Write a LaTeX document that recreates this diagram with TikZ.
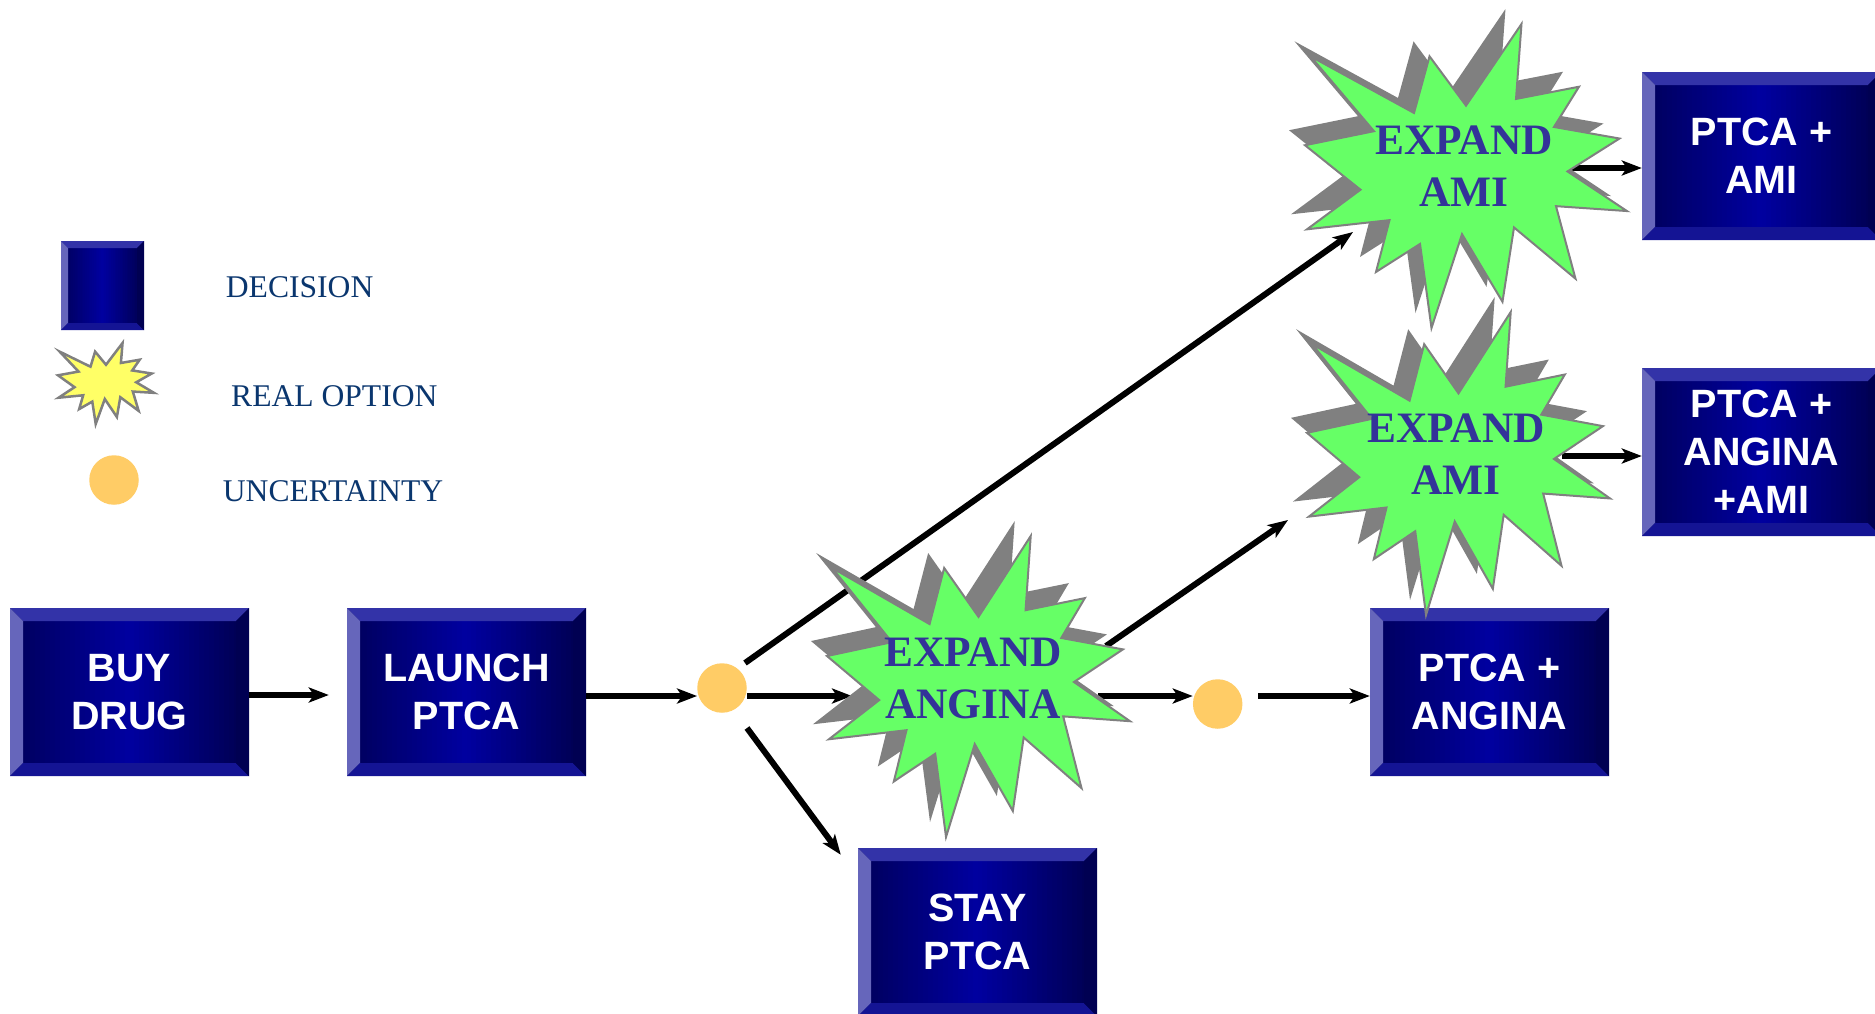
\documentclass[tikz,border=0pt]{standalone}
\usepackage{fontspec}
\setmainfont{Liberation Serif}
\newfontfamily\labelsans{Liberation Sans}
\usetikzlibrary{arrows.meta,calc}

% palette
\definecolor{bevtop}{RGB}{51,51,168}
\definecolor{bevleft}{RGB}{102,102,187}
\definecolor{bevbot}{RGB}{20,20,148}
\definecolor{bevright}{RGB}{0,0,82}
\definecolor{faceleft}{RGB}{0,0,90}
\definecolor{facemid}{RGB}{0,0,160}
\definecolor{faceright}{RGB}{0,0,78}
\definecolor{burstgreen}{RGB}{102,255,102}
\definecolor{burstgrey}{RGB}{128,128,128}
\definecolor{burstyellow}{RGB}{255,255,102}
\definecolor{optiontext}{RGB}{51,51,153}
\definecolor{legendtext}{RGB}{10,54,110}
\definecolor{chancefill}{RGB}{255,204,102}

% "explosion" outline in a unit box (x right, y down)
\newcommand\burst[5]{%
  \path[#5,shift={(#1,#2)},xscale=#3,yscale=#4]
    (0.5,0.2685) -- (0.6723,0) -- (0.6553,0.2465) -- (0.8509,0.2063) --
    (0.7732,0.3387) -- (0.9767,0.3767) -- (0.8151,0.4850) -- (1,0.6153) --
    (0.7795,0.5992) -- (0.8400,0.8377) -- (0.6491,0.6693) -- (0.6133,0.9137) --
    (0.4876,0.6914) -- (0.3928,1) -- (0.3572,0.7235) -- (0.2205,0.8156) --
    (0.2624,0.6452) -- (0.0063,0.6753) -- (0.1723,0.5451) -- (0,0.3988) --
    (0.2142,0.3526) -- (0.0171,0.1063) -- (0.3385,0.2926) -- (0.3867,0.1063) -- cycle;}

% face of a decision box: dark edges, brighter middle, in vertical strips
\newcommand\boxface{%
  \foreach \i in {0,...,47}{%
    \pgfmathsetmacro\ta{\i/48}%
    \pgfmathsetmacro\tb{min(1,(\i+1.4)/48)}%
    \pgfmathsetmacro\tc{(\i+0.5)/48}%
    \pgfmathsetmacro\mixpct{\tc<0.5 ? 200*\tc : 200*(1-\tc)}%
    \ifdim\tc pt<0.5pt\def\edgecol{faceleft}\else\def\edgecol{faceright}\fi
    \fill[facemid!\mixpct!\edgecol]
      ($(path picture bounding box.south west)!\ta!(path picture bounding box.south east)$)
      rectangle
      ($(path picture bounding box.north west)!\tb!(path picture bounding box.north east)$);
  }}

\tikzset{
  bevel width/.initial=13pt,
  bevelbox/.style={rectangle, inner sep=0pt, minimum width=239pt, minimum height=168pt,
    fill=faceleft, text=white, align=center,
    font=\labelsans\bfseries\fontsize{39.5}{48}\selectfont,
    path picture={
      \def\bw{\pgfkeysvalueof{/tikz/bevel width}}
      \boxface
      \fill[bevtop] (path picture bounding box.north west) -- (path picture bounding box.north east)
        -- ([shift={(-\bw,-\bw)}]path picture bounding box.north east)
        -- ([shift={(\bw,-\bw)}]path picture bounding box.north west) -- cycle;
      \fill[bevleft] (path picture bounding box.north west)
        -- ([shift={(\bw,-\bw)}]path picture bounding box.north west)
        -- ([shift={(\bw,\bw)}]path picture bounding box.south west)
        -- (path picture bounding box.south west) -- cycle;
      \fill[bevbot] (path picture bounding box.south west)
        -- ([shift={(\bw,\bw)}]path picture bounding box.south west)
        -- ([shift={(-\bw,\bw)}]path picture bounding box.south east)
        -- (path picture bounding box.south east) -- cycle;
      \fill[bevright] (path picture bounding box.north east)
        -- (path picture bounding box.south east)
        -- ([shift={(-\bw,\bw)}]path picture bounding box.south east)
        -- ([shift={(-\bw,-\bw)}]path picture bounding box.north east) -- cycle;
    }},
  chance/.style={circle, fill=chancefill, inner sep=0pt, minimum size=49.5pt},
  burstshade/.style={fill=burstgrey},
  burstface/.style={fill=burstgreen, draw=burstgrey, line width=2pt, line join=miter},
  legendburst/.style={fill=burstyellow, draw=burstgrey, line width=2.5pt},
  optionlabel/.style={inner sep=0pt, align=center, text=optiontext,
    font=\bfseries\fontsize{43.4}{52}\selectfont},
  legendlabel/.style={inner sep=0pt, anchor=base west, text=legendtext,
    font=\fontsize{31.6}{36}\selectfont},
  arr/.style={line width=6pt, -{Stealth[length=20pt,width=15pt,inset=5pt]}},
}

\begin{document}
\begin{tikzpicture}[x=1pt,y=-1pt]
\useasboundingbox (0,0) rectangle (1875,1013);

% ---- legend
\node[bevelbox, bevel width=7pt, minimum width=83pt, minimum height=89pt] (legdec) at (102.5,285.5) {};
\burst{58}{343}{96}{81}{legendburst}
\node[chance] (legchance) at (114,480) {};
\node[legendlabel] (legdectext) at (225.7,297.3) {DECISION};
\node[legendlabel] (legopttext) at (231,406) {REAL OPTION};
\node[legendlabel] (legunctext) at (222.7,501.7) {UNCERTAINTY};

% ---- decisions
\node[bevelbox] (buy)    at (129.5,692)  {BUY\\DRUG};
\node[bevelbox] (launch) at (466.5,692)  {LAUNCH\\PTCA};
\node[bevelbox] (stay)   at (977.5,932)  {STAY\\PTCA};
\node[bevelbox] (ptang)  at (1489.5,692) {PTCA +\\ANGINA};
\node[bevelbox] (ptami)  at (1761.5,156) {PTCA +\\AMI};
\node[bevelbox] (ptaa)   at (1761.5,452) {PTCA +\\ANGINA\\+AMI};

% ---- uncertainties
\node[chance] (c1) at (722,688) {};
\node[chance] (c2) at (1217.7,704) {};

% ---- ports on the option bursts
\coordinate (row) at (0,696);
\coordinate (angL) at (852,696);
\coordinate (angR) at (1098,696);
\coordinate (angNE) at (1106,646);
\coordinate (amiTopIn) at (1353,232);
\coordinate (amiTopOut) at (1572,168);
\coordinate (amiMidIn) at (1288,520);
\coordinate (amiMidOut) at (1562,456);

% ---- connectors
\draw[arr] ([yshift=-3pt]buy.east) -- ([xshift=-18pt,yshift=-3pt]launch.west);
\draw[arr] (launch.east |- row) -- (c1.west |- row);
\draw[arr] (c1.east |- row) -- (angL);
\draw[arr] ($(c1.center)+(23,-25)$) -- (amiTopIn);
\draw[arr] ($(c1.center)+(25,40)$) -- ([xshift=-17pt,yshift=-7pt]stay.north west);
\draw[arr] (angR) -- (c2.west |- row);
\draw[arr] ($(c2.east |- row)+(15.6,0)$) -- (ptang.west |- row);
\draw[arr] (angNE) -- (amiMidIn);
\draw[arr] (amiTopOut) -- (ptami.west |- amiTopOut);
\draw[arr] (amiMidOut) -- (ptaa.west |- amiMidOut);

% ---- real options
\burst{1289}{9}{322}{304}{burstshade}
\burst{1305}{24}{322}{304}{burstface}
\burst{1291}{297}{303}{303}{burstshade}
\burst{1307}{312}{303}{303}{burstface}
\burst{811}{521}{303}{301}{burstshade}
\burst{827}{536}{303}{301}{burstface}

\node[optionlabel] (amitop) at (1464,166) {EXPAND\\AMI};
\node[optionlabel] (amimid) at (1456,454) {EXPAND\\AMI};
\node[optionlabel] (angina) at (973,678) {EXPAND\\ANGINA};
\end{tikzpicture}
\end{document}
